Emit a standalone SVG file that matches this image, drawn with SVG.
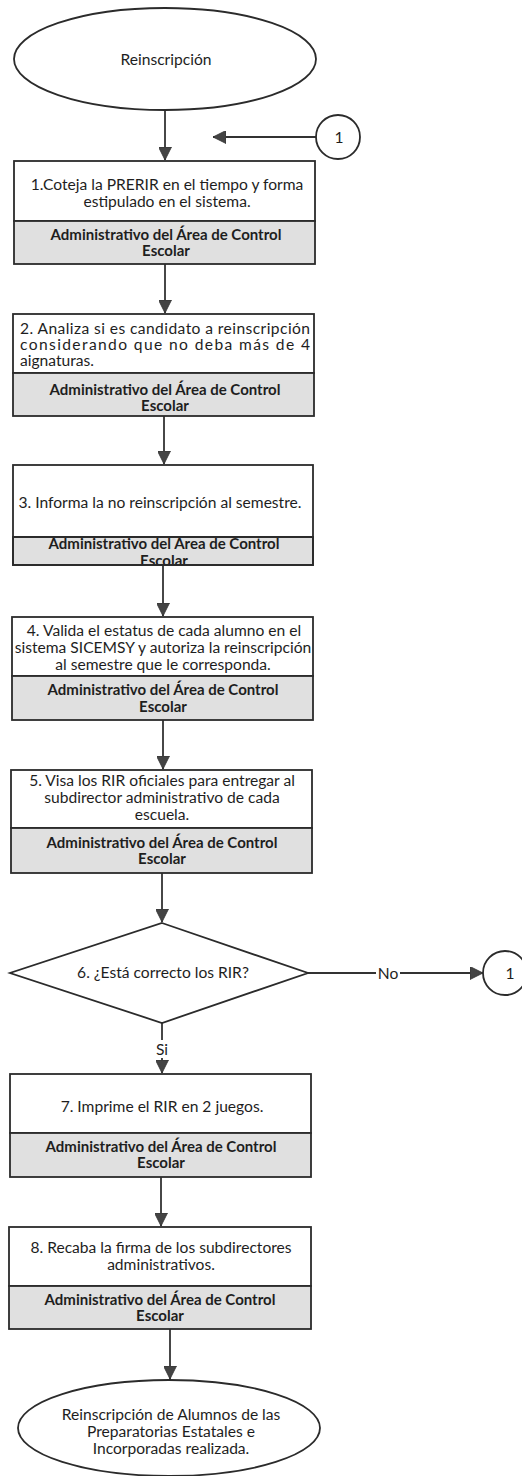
<svg xmlns="http://www.w3.org/2000/svg" width="522" height="1476" viewBox="0 0 522 1476">
<style>
.sh{fill:#fff;stroke:#2b2b2b;stroke-width:1.8}
.gr{fill:#e0e0e0;stroke:#2b2b2b;stroke-width:1.8}
.t{font-family:Lato,"Liberation Sans",sans-serif;font-size:15.6px;fill:#1e1e1e;text-anchor:middle}
.tl{font-family:Lato,"Liberation Sans",sans-serif;font-size:15.6px;fill:#1e1e1e}
.g{font-family:Lato,"Liberation Sans",sans-serif;font-size:15px;font-weight:bold;fill:#1e1e1e;text-anchor:middle}
.c{fill:none;stroke:#333;stroke-width:1.8}
</style>
<defs>
<marker id="arr" viewBox="0 0 13 13" refX="13" refY="6.5" markerWidth="13" markerHeight="13" orient="auto" markerUnits="userSpaceOnUse">
<path d="M0,0 L13,6.5 L0,13 z" fill="#444" stroke="#333" stroke-width="0.8"/>
</marker>
<clipPath id="clip3"><rect x="14" y="537" width="300" height="28"/></clipPath>
</defs>

<g id="connectors">
<line class="c" x1="165" y1="110" x2="165" y2="160" marker-end="url(#arr)"/>
<line class="c" x1="316" y1="137" x2="213" y2="137" marker-end="url(#arr)"/>
<line class="c" x1="165" y1="264" x2="165" y2="313" marker-end="url(#arr)"/>
<line class="c" x1="164" y1="416" x2="164" y2="464" marker-end="url(#arr)"/>
<line class="c" x1="163" y1="565" x2="163" y2="616" marker-end="url(#arr)"/>
<line class="c" x1="163" y1="720" x2="163" y2="769" marker-end="url(#arr)"/>
<line class="c" x1="162" y1="873" x2="162" y2="922" marker-end="url(#arr)"/>
<line class="c" x1="308" y1="973" x2="483" y2="973" marker-end="url(#arr)"/>
<rect x="376" y="964" width="24" height="18" fill="#fff"/>
<text class="t" x="388" y="979">No</text>
<line class="c" x1="162" y1="1023" x2="162" y2="1073" marker-end="url(#arr)"/>
<rect x="152" y="1040" width="20" height="18" fill="#fff"/>
<text class="t" x="162" y="1055">Si</text>
<line class="c" x1="161" y1="1177" x2="161" y2="1226" marker-end="url(#arr)"/>
<line class="c" x1="170" y1="1329" x2="170" y2="1379" marker-end="url(#arr)"/>
</g>

<g id="start">
<ellipse class="sh" cx="165" cy="59" rx="151" ry="51"/>
<text class="t" x="166" y="65">Reinscripción</text>
</g>

<g id="conn1-top">
<circle class="sh" cx="338" cy="137" r="22"/>
<text class="t" x="339" y="143">1</text>
</g>

<g id="step1">
<rect class="sh" x="14" y="161" width="301" height="60"/>
<rect class="gr" x="14" y="221" width="301" height="43"/>
<text class="t" x="167" y="190">1.Coteja la PRERIR en el tiempo y forma</text>
<text class="t" x="167" y="207">estipulado en el sistema.</text>
<text class="g" x="166" y="240">Administrativo del Área de Control</text>
<text class="g" x="166" y="256">Escolar</text>
</g>

<g id="step2">
<rect class="sh" x="13" y="314" width="301" height="59"/>
<rect class="gr" x="13" y="373" width="301" height="43"/>
<text class="tl" x="20" y="334" textLength="290" lengthAdjust="spacing">2. Analiza si es candidato a reinscripción</text>
<text class="tl" x="20" y="350" textLength="290" lengthAdjust="spacing">considerando que no deba más de 4</text>
<text class="tl" x="20" y="366">aignaturas.</text>
<text class="g" x="165" y="395">Administrativo del Área de Control</text>
<text class="g" x="165" y="411">Escolar</text>
</g>

<g id="step3">
<rect class="sh" x="13" y="465" width="300" height="72"/>
<rect class="gr" x="13" y="537" width="300" height="28"/>
<text class="t" x="160" y="508">3. Informa la no reinscripción al semestre.</text>
<g clip-path="url(#clip3)">
<text class="g" x="164" y="549">Administrativo del Área de Control</text>
<text class="g" x="164" y="566">Escolar</text>
</g>
<rect x="13" y="537" width="300" height="28" fill="none" stroke="#2b2b2b" stroke-width="1.8"/>
</g>

<g id="step4">
<rect class="sh" x="12" y="617" width="301" height="59"/>
<rect class="gr" x="12" y="676" width="301" height="44"/>
<text class="t" x="164" y="636">4. Valida el estatus de cada alumno en el</text>
<text class="t" x="163" y="653">sistema SICEMSY y autoriza la reinscripción</text>
<text class="t" x="163" y="670">al semestre que le corresponda.</text>
<text class="g" x="163" y="695">Administrativo del Área de Control</text>
<text class="g" x="163" y="712">Escolar</text>
</g>

<g id="step5">
<rect class="sh" x="11" y="770" width="301" height="58"/>
<rect class="gr" x="11" y="828" width="301" height="45"/>
<text class="t" x="162" y="786">5. Visa los RIR oficiales para entregar al</text>
<text class="t" x="162" y="803">subdirector administrativo de cada</text>
<text class="t" x="162" y="820">escuela.</text>
<text class="g" x="162" y="848">Administrativo del Área de Control</text>
<text class="g" x="162" y="864">Escolar</text>
</g>

<g id="decision6">
<polygon class="sh" points="162,923 308,973 162,1023 10,973"/>
<text class="t" x="163" y="978">6. ¿Está correcto los RIR?</text>
</g>

<g id="conn1-right">
<circle class="sh" cx="505" cy="973" r="22"/>
<text class="t" x="510" y="979">1</text>
</g>

<g id="step7">
<rect class="sh" x="10" y="1074" width="301" height="59"/>
<rect class="gr" x="10" y="1133" width="301" height="44"/>
<text class="t" x="162" y="1112">7. Imprime el RIR en 2 juegos.</text>
<text class="g" x="161" y="1152">Administrativo del Área de Control</text>
<text class="g" x="161" y="1168">Escolar</text>
</g>

<g id="step8">
<rect class="sh" x="9" y="1227" width="302" height="59"/>
<rect class="gr" x="9" y="1286" width="302" height="43"/>
<text class="t" x="161" y="1253">8. Recaba la firma de los subdirectores</text>
<text class="t" x="161" y="1270">administrativos.</text>
<text class="g" x="160" y="1305">Administrativo del Área de Control</text>
<text class="g" x="160" y="1321">Escolar</text>
</g>

<g id="end">
<ellipse class="sh" cx="169" cy="1428" rx="151" ry="48"/>
<text class="t" x="171" y="1420">Reinscripción de Alumnos de las</text>
<text class="t" x="171" y="1437">Preparatorias Estatales e</text>
<text class="t" x="171" y="1454">Incorporadas realizada.</text>
</g>
</svg>
